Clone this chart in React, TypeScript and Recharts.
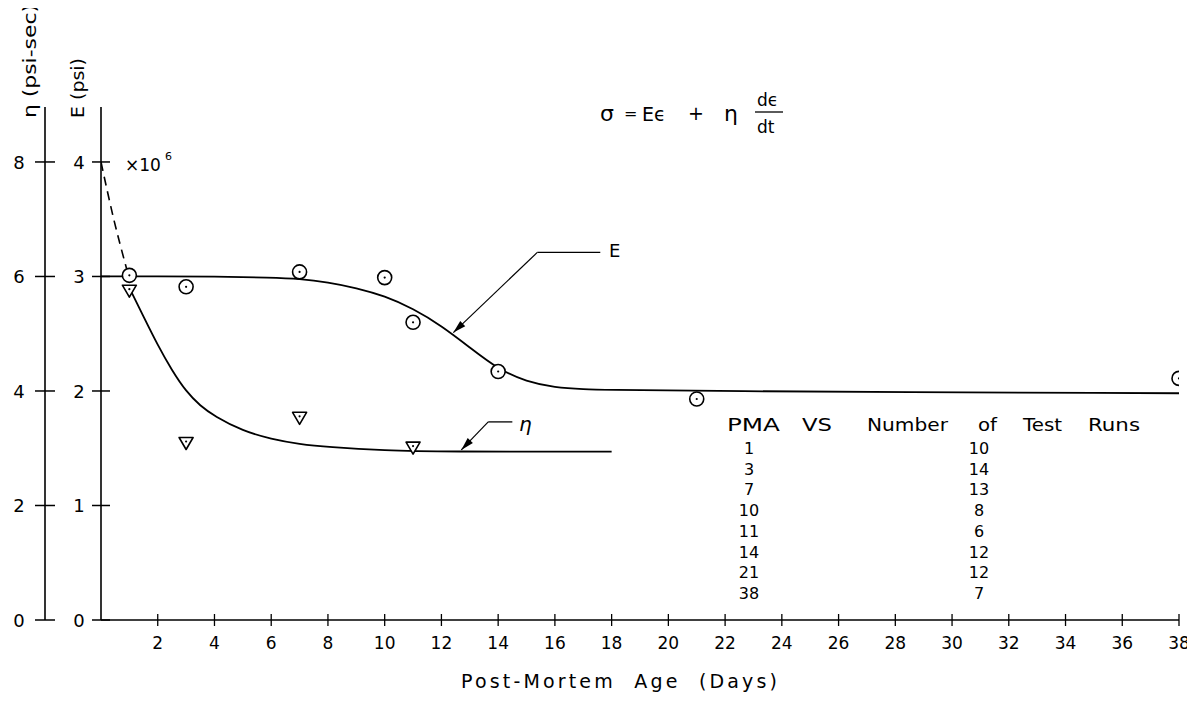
import React from 'react';
import { ComposedChart, Line, Scatter, XAxis, YAxis, ReferenceLine } from 'recharts';

// ---- data ----
const xTicks = [2, 4, 6, 8, 10, 12, 14, 16, 18, 20, 22, 24, 26, 28, 30, 32, 34, 36, 38];
const eTicks = [0, 1, 2, 3, 4];
const etaTicks = [0, 2, 4, 6, 8];

// E (psi x10^6) measured points (circles)
const eMeasured = [
  { day: 1, e: 3.01 },
  { day: 3, e: 2.91 },
  { day: 7, e: 3.04 },
  { day: 10, e: 2.99 },
  { day: 11, e: 2.6 },
  { day: 14, e: 2.17 },
  { day: 21, e: 1.93 },
  { day: 38, e: 2.11 },
];

// eta (psi-sec x10^6) measured points (triangles)
const etaMeasured = [
  { day: 1, eta: 5.76 },
  { day: 3, eta: 3.1 },
  { day: 7, eta: 3.54 },
  { day: 11, eta: 3.02 },
];

// fitted E curve
const eCurve = [
  { day: 0, e: 3.0 },
  { day: 2, e: 3.0 },
  { day: 4, e: 3.0 },
  { day: 6, e: 2.99 },
  { day: 7, e: 2.98 },
  { day: 8, e: 2.95 },
  { day: 9, e: 2.9 },
  { day: 10, e: 2.83 },
  { day: 11, e: 2.72 },
  { day: 12, e: 2.57 },
  { day: 13, e: 2.38 },
  { day: 14, e: 2.19 },
  { day: 15, e: 2.08 },
  { day: 16, e: 2.03 },
  { day: 17, e: 2.015 },
  { day: 18, e: 2.01 },
  { day: 20, e: 2.0 },
  { day: 38, e: 1.98 },
];

// fitted eta curve
const etaCurve = [
  { day: 1, eta: 5.8 },
  { day: 1.5, eta: 5.3 },
  { day: 2, eta: 4.8 },
  { day: 2.5, eta: 4.36 },
  { day: 3, eta: 3.99 },
  { day: 3.5, eta: 3.74 },
  { day: 4, eta: 3.56 },
  { day: 5, eta: 3.3 },
  { day: 6, eta: 3.16 },
  { day: 7, eta: 3.07 },
  { day: 8, eta: 3.02 },
  { day: 10, eta: 2.96 },
  { day: 12, eta: 2.94 },
  { day: 18, eta: 2.94 },
];

// dashed extrapolation of E towards day 0
const eExtrapolated = [
  { day: 0, e: 4.0 },
  { day: 0.45, e: 3.5 },
  { day: 0.9, e: 3.07 },
];

// table: PMA vs number of test runs
const pmaDays = [1, 3, 7, 10, 11, 14, 21, 38];
const testRuns = [10, 14, 13, 8, 6, 12, 12, 7];
const tableHeader = ['PMA', 'VS', 'Number', 'of', 'Test', 'Runs'];

// ---- layout ----
const W = 1187;
const H = 690;
const FONT = '"DejaVu Sans", sans-serif';

const CircleDot = (props: any) => {
  const { cx, cy } = props;
  if (cx == null || cy == null) return null;
  return (
    <g>
      <circle cx={cx} cy={cy} r={7} fill="#fff" stroke="#000" strokeWidth={1.6} />
      <circle cx={cx} cy={cy} r={1.1} fill="#000" />
    </g>
  );
};

const TriDot = (props: any) => {
  const { cx, cy } = props;
  if (cx == null || cy == null) return null;
  return (
    <g>
      <polygon
        points={`${cx - 7},${cy - 5} ${cx + 7},${cy - 5} ${cx},${cy + 7}`}
        fill="#fff"
        stroke="#000"
        strokeWidth={1.6}
        strokeLinejoin="round"
      />
      <circle cx={cx} cy={cy - 1} r={1.1} fill="#000" />
    </g>
  );
};

const Arrow = (props: any) => {
  const { x1, y1, x2, y2 } = props;
  const ang = Math.atan2(y2 - y1, x2 - x1);
  const L = 13;
  const Wd = 3.6;
  const bx = x2 - L * Math.cos(ang);
  const by = y2 - L * Math.sin(ang);
  const px = -Math.sin(ang) * Wd;
  const py = Math.cos(ang) * Wd;
  return (
    <g>
      <line x1={x1} y1={y1} x2={x2} y2={y2} stroke="#000" strokeWidth={1.2} />
      <polygon points={`${x2},${y2} ${bx + px},${by + py} ${bx - px},${by - py}`} fill="#000" />
    </g>
  );
};

const Seg = (props: any) => {
  const { x1, y1, x2, y2 } = props;
  return <line x1={x1} y1={y1} x2={x2} y2={y2} stroke="#000" strokeWidth={1.3} />;
};

const XTick = (props: any) => {
  const { x, y, payload } = props;
  return (
    <g>
      <line x1={x} y1={y - 6} x2={x} y2={y + 6} stroke="#000" strokeWidth={1.3} />
      <text x={x} y={y + 29} textAnchor="middle" fontFamily={FONT} fontSize={17} fill="#000">
        {payload.value}
      </text>
    </g>
  );
};

const makeYTick = (half: number, dx: number) => (props: any) => {
  const { x, y, payload } = props;
  return (
    <g>
      <line x1={x - half} y1={y} x2={x + half} y2={y} stroke="#000" strokeWidth={1.5} />
      <text x={x - dx} y={y + 7} textAnchor="middle" fontFamily={FONT} fontSize={18} fill="#000">
        {payload.value}
      </text>
    </g>
  );
};

const ETick = makeYTick(9, 22);
const EtaTick = makeYTick(10, 26);

export default function App() {
  return (
    <div style={{ position: 'relative', width: W, height: H, background: '#fff' }}>
      <ComposedChart
        width={W}
        height={H}
        margin={{ top: 99, right: 16, bottom: 38, left: 0 }}
      >
        <XAxis
          dataKey="day"
          type="number"
          domain={[0, 38]}
          ticks={xTicks}
          allowDataOverflow
          tickSize={0}
          tickMargin={0}
          tickLine={false}
          tick={<XTick />}
          axisLine={{ stroke: '#000', strokeWidth: 1.6 }}
          height={40}
          interval={0}
        />
        <YAxis
          yAxisId="E"
          type="number"
          domain={[0, 4.48]}
          ticks={eTicks}
          allowDataOverflow
          width={56}
          tickSize={0}
          tickMargin={0}
          tickLine={false}
          tick={<ETick />}
          axisLine={{ stroke: '#000', strokeWidth: 1.6 }}
          interval={0}
        />
        <YAxis
          yAxisId="eta"
          type="number"
          domain={[0, 8.96]}
          ticks={etaTicks}
          allowDataOverflow
          width={37}
          tickSize={0}
          tickMargin={0}
          tickLine={false}
          tick={<EtaTick />}
          axisLine={{ stroke: '#000', strokeWidth: 1.6 }}
          interval={0}
        />
        <Line
          data={eExtrapolated}
          dataKey="e"
          yAxisId="E"
          type="natural"
          stroke="#000"
          strokeWidth={1.6}
          strokeDasharray="9 6"
          dot={false}
          isAnimationActive={false}
        />
        <Line
          data={eCurve}
          dataKey="e"
          yAxisId="E"
          type="basis"
          stroke="#000"
          strokeWidth={1.8}
          dot={false}
          isAnimationActive={false}
        />
        <Line
          data={etaCurve}
          dataKey="eta"
          yAxisId="eta"
          type="basis"
          stroke="#000"
          strokeWidth={1.8}
          dot={false}
          isAnimationActive={false}
        />
        <Scatter data={eMeasured} dataKey="e" yAxisId="E" shape={<CircleDot />} isAnimationActive={false} />
        <Scatter data={etaMeasured} dataKey="eta" yAxisId="eta" shape={<TriDot />} isAnimationActive={false} />
        {/* E leader */}
        <ReferenceLine yAxisId="E" segment={[{ x: 15.38, y: 3.21 }, { x: 17.6, y: 3.21 }]} shape={<Seg />} />
        <ReferenceLine yAxisId="E" segment={[{ x: 15.38, y: 3.21 }, { x: 12.42, y: 2.51 }]} shape={<Arrow />} />
        {/* eta leader */}
        <ReferenceLine yAxisId="E" segment={[{ x: 13.65, y: 1.73 }, { x: 14.5, y: 1.73 }]} shape={<Seg />} />
        <ReferenceLine yAxisId="E" segment={[{ x: 13.65, y: 1.73 }, { x: 12.7, y: 1.485 }]} shape={<Arrow />} />
      </ComposedChart>

      <svg
        width={W}
        height={H}
        style={{ position: 'absolute', left: 0, top: 0, pointerEvents: 'none' }}
      >
        <g transform="translate(-8,-8)" fontFamily={FONT} fill="#000">
          {/* axis titles */}
          <text transform="translate(36,118) rotate(-90)" fontSize={18} textLength={114} lengthAdjust="spacingAndGlyphs">
            η (psi-sec)
          </text>
          <text transform="translate(84,118) rotate(-90)" fontSize={17} textLength={60} lengthAdjust="spacingAndGlyphs">
            E (psi)
          </text>
          <text x={125} y={171} fontSize={17}>
            ×10
          </text>
          <text x={165} y={160} fontSize={11}>
            6
          </text>

          {/* equation */}
          <text x={600} y={121} fontSize={22}>σ</text>
          <text x={624} y={119} fontSize={16}>=</text>
          <text x={642} y={121} fontSize={19}>Eϵ</text>
          <text x={688} y={120} fontSize={19}>+</text>
          <text x={724} y={121} fontSize={22}>η</text>
          <text x={757} y={106} fontSize={17}>dϵ</text>
          <line x1={755} y1={112} x2={783} y2={112} stroke="#000" strokeWidth={1.3} />
          <text x={757} y={133} fontSize={17}>dt</text>

          {/* curve labels */}
          <text x={609} y={257} fontSize={18}>E</text>
          <text x={519} y={431} fontSize={20} fontStyle="italic">η</text>

          {/* table */}
          {(() => {
            const xs = [727, 802, 867, 978, 1023, 1088];
            const ws = [53, 30, 81, 19, 39, 52];
            return tableHeader.map((w, i) => (
              <text key={w} x={xs[i]} y={431} fontSize={17} textLength={ws[i]} lengthAdjust="spacingAndGlyphs">
                {w}
              </text>
            ));
          })()}
          {pmaDays.map((d, i) => (
            <text key={'p' + i} x={749} y={454 + i * 20.7} fontSize={16} textAnchor="middle">
              {d}
            </text>
          ))}
          {testRuns.map((n, i) => (
            <text key={'n' + i} x={979} y={454 + i * 20.7} fontSize={16} textAnchor="middle">
              {n}
            </text>
          ))}

          {/* x title */}
          <text x={461} y={688} fontSize={19} textLength={316} lengthAdjust="spacing" style={{ whiteSpace: 'pre' }}>
            Post-Mortem  Age  (Days)
          </text>
        </g>
      </svg>
    </div>
  );
}
